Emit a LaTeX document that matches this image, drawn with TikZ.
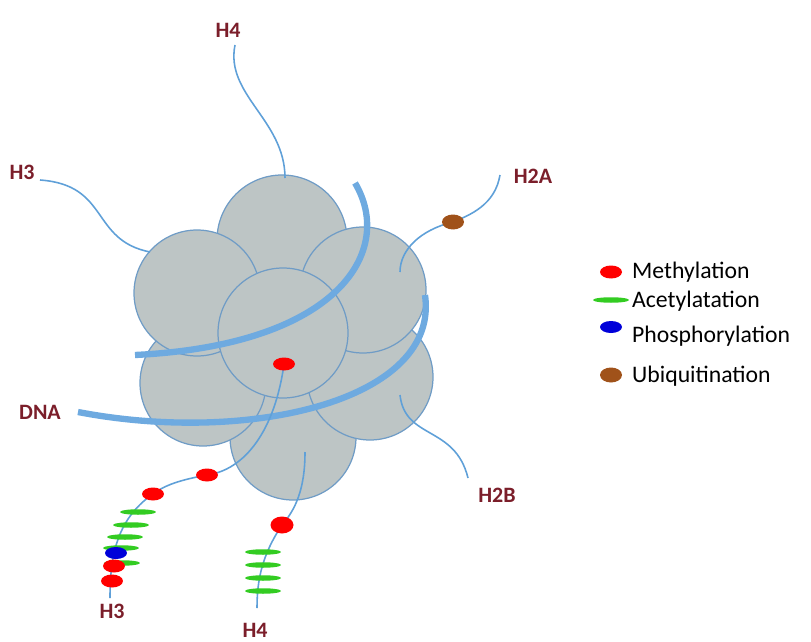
\documentclass[tikz,border=0pt]{standalone}
\usepackage{fontspec}
\setmainfont{Carlito}
\usetikzlibrary{positioning}
\usetikzlibrary{shapes.geometric}
\definecolor{histfill}{HTML}{BDC5C5}
\definecolor{histedge}{HTML}{6F9CC6}
\definecolor{dnablue}{HTML}{6EAAE0}
\definecolor{tailblue}{HTML}{5FA0D8}
\definecolor{labred}{HTML}{7B1E2A}
\definecolor{ubibrown}{HTML}{A0521A}
\definecolor{acgreen}{HTML}{33CC22}
\tikzset{
  histone/.style={fill=histfill, draw=histedge, line width=0.7pt},
  dna/.style={dnablue, line width=3.6pt},
  tail/.style={tailblue, line width=0.9pt},
  hlabel/.style={text=labred, font=\bfseries\fontsize{12.5}{14}\selectfont},
  meth/.style={ellipse, fill=red, minimum width=0.44cm, minimum height=0.26cm, inner sep=0pt},
  acet/.style={ellipse, fill=acgreen, minimum width=0.72cm, minimum height=0.11cm, inner sep=0pt},
  phos/.style={ellipse, fill=blue!85!black, minimum width=0.44cm, minimum height=0.24cm, inner sep=0pt},
  ubiq/.style={ellipse, fill=ubibrown, minimum width=0.44cm, minimum height=0.3cm, inner sep=0pt},
  legtext/.style={font=\fontsize{13.5}{15}\selectfont, anchor=west},
}
\begin{document}
\begin{tikzpicture}[x=0.02cm, y=-0.02cm]
        \useasboundingbox (0, 0) rectangle (811, 642);

        % histone octamer
        \filldraw[histone] (293, 437) circle(63);
        \filldraw[histone] (282, 240) circle(65);
        \filldraw[histone] (203, 383) circle(63);
        \filldraw[histone] (370, 377) circle(63);
        \filldraw[histone] (197, 293) circle(63);
        \filldraw[histone] (363, 290) circle(63);
        \filldraw[histone] (283, 333) circle(65);

        % DNA
        \draw[dna] (355, 183) .. controls (395, 250) and (340, 345) .. (135, 355);
        \draw[dna] (425, 295) .. controls (440, 400) and (250, 445) .. (78, 412);

        % tails
        \draw[tail] (235, 45) .. controls (225, 95) and (285, 120) .. (285, 178);
        \draw[tail] (40, 180) .. controls (110, 185) and (90, 240) .. (150, 252);
        \coordinate (ubi) at (453, 222);
        \draw[tail] (500, 175) .. controls (495, 205) and (470, 215) .. (ubi);
        \draw[tail] (ubi) .. controls (420, 230) and (400, 250) .. (400, 272);
        \draw[tail] (400, 395) .. controls (405, 440) and (455, 425) .. (468, 478);
        \coordinate (m1) at (284, 364);
        \coordinate (m2) at (207, 475);
        \coordinate (m3) at (153, 494);
        \draw[tail] (m1) .. controls (275, 430) and (245, 470) .. (m2);
        \draw[tail] (m2) .. controls (180, 480) and (165, 485) .. (m3);
        \draw[tail] (m3) .. controls (115, 520) and (110, 560) .. (110, 598);
        \coordinate (m4) at (282, 525);
        \draw[tail] (305, 452) .. controls (305, 490) and (295, 510) .. (m4);
        \draw[tail] (m4) .. controls (262, 555) and (257, 580) .. (257, 608);

        % modification marks
        \node[meth] at (m1) {};
        \node[meth] at (m2) {};
        \node[meth] at (m3) {};
        \node[meth, minimum width=0.46cm, minimum height=0.34cm] at (m4) {};
        \node[ubiq] at (ubi) {};
        \foreach \px/\py in {138/512, 131/525, 125/537, 121/548, 122/563}
            \node[acet] at (\px, \py) {};
        \node[meth] at (114, 566) {};
        \node[phos] at (116, 553) {};
        \node[meth] at (112, 581) {};
        \foreach \py in {552, 565, 578, 591}
            \node[acet] at (263, \py) {};

        % labels
        \node[hlabel] (h4top) at (228, 30) {H4};
        \node[hlabel] (h3top) at (22, 172) {H3};
        \node[hlabel] (h2a) at (533, 176) {H2A};
        \node[hlabel] (h2b) at (497, 495) {H2B};
        \node[hlabel] (dna) at (40, 412) {DNA};
        \node[hlabel] (h3bot) at (112, 611) {H3};
        \node[hlabel] (h4bot) at (255, 630) {H4};

        % legend
        \node[meth] (lmeth) at (611, 272) {};
        \node[legtext] at (626, 272) {Methylation};
        \node[acet] (lacet) at (611, 300) {};
        \node[legtext] at (626, 301) {Acetylatation};
        \node[phos] (lphos) at (611, 327) {};
        \node[legtext] at (626, 336) {Phosphorylation};
        \node[ubiq] (lubiq) at (611, 375) {};
        \node[legtext] at (626, 376) {Ubiquitination};
    \end{tikzpicture}
\end{document}
